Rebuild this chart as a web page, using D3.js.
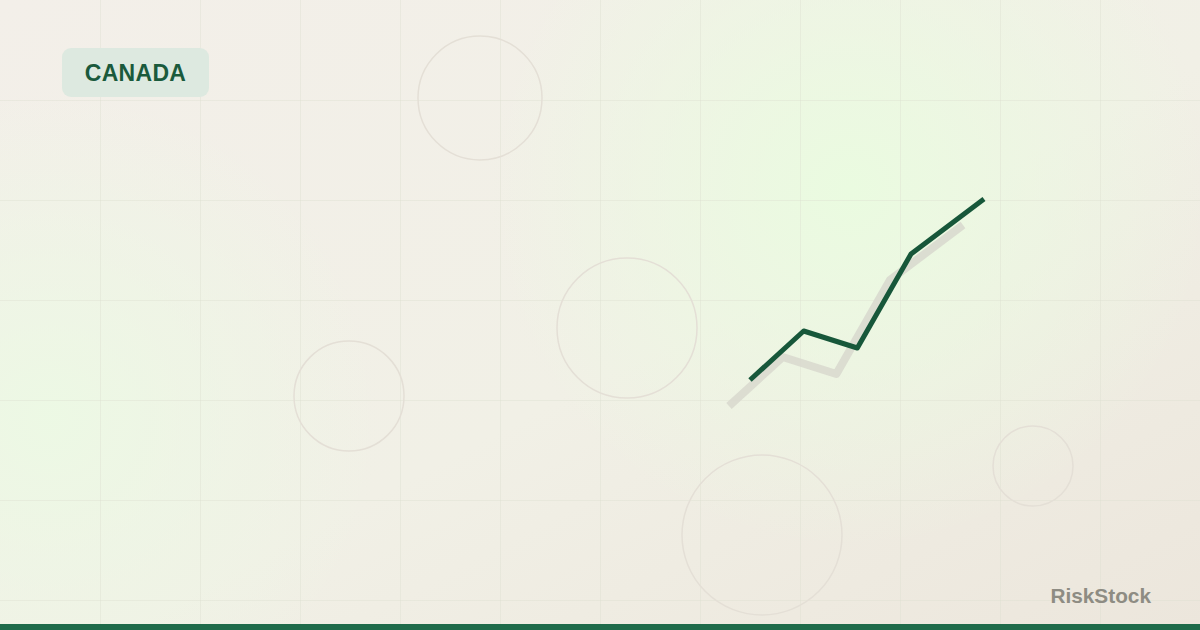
<!DOCTYPE html>
<html>
<head>
<meta charset="utf-8">
<script src="https://cdn.jsdelivr.net/npm/d3@7"></script>
<style>
  html, body { margin: 0; padding: 0; background: #f2efe8; }
  svg { display: block; }
</style>
</head>
<body>
<svg id="chart" width="1200" height="630"></svg>
<script>
// ---- data ----
const periods = [0, 1, 2, 3, 4.36];
const values = [20, 39.6, 32.8, 70.4, 92.4];
const badgeLabel = "CANADA";
const brandLabel = "RiskStock";
const circleCentersX = [480, 627, 349, 762, 1033];
const circleCentersY = [98, 328, 396, 535, 466];
const circleRadii = [62, 70, 55, 80, 40];

const W = 1200, H = 630;
const svg = d3.select("#chart");
const defs = svg.append("defs");

// background gradients
const lg = defs.append("linearGradient").attr("id", "bg").attr("x1", 0).attr("y1", 0).attr("x2", 1).attr("y2", 1);
lg.append("stop").attr("offset", "0%").attr("stop-color", "#f3efe9");
lg.append("stop").attr("offset", "55%").attr("stop-color", "#f1f0e6");
lg.append("stop").attr("offset", "100%").attr("stop-color", "#ece6dc");

const rg1 = defs.append("radialGradient").attr("id", "glow1").attr("gradientUnits", "userSpaceOnUse")
  .attr("cx", 850).attr("cy", 190).attr("r", 360);
rg1.append("stop").attr("offset", "0%").attr("stop-color", "#eafbe0").attr("stop-opacity", 1);
rg1.append("stop").attr("offset", "100%").attr("stop-color", "#eafbe0").attr("stop-opacity", 0);

const rg2 = defs.append("radialGradient").attr("id", "glow2").attr("gradientUnits", "userSpaceOnUse")
  .attr("cx", 50).attr("cy", 420).attr("r", 330);
rg2.append("stop").attr("offset", "0%").attr("stop-color", "#ecf9e4").attr("stop-opacity", 0.95);
rg2.append("stop").attr("offset", "100%").attr("stop-color", "#ecf9e4").attr("stop-opacity", 0);

svg.append("rect").attr("width", W).attr("height", H).attr("fill", "url(#bg)");
svg.append("rect").attr("width", W).attr("height", H).attr("fill", "url(#glow1)");
svg.append("rect").attr("width", W).attr("height", H).attr("fill", "url(#glow2)");

// grid
const gx = d3.range(100, W, 100), gy = d3.range(100, H, 100);
const grid = svg.append("g").attr("stroke", "#dcdfd0").attr("stroke-opacity", 0.4).attr("stroke-width", 1);
grid.selectAll("line.v").data(gx).join("line").attr("class", "v")
  .attr("x1", d => d + 0.5).attr("x2", d => d + 0.5).attr("y1", 0).attr("y2", H);
grid.selectAll("line.h").data(gy).join("line").attr("class", "h")
  .attr("y1", d => d + 0.5).attr("y2", d => d + 0.5).attr("x1", 0).attr("x2", W);

// decorative circles
svg.append("g").selectAll("circle").data(circleRadii).join("circle")
  .attr("cx", (d, i) => circleCentersX[i]).attr("cy", (d, i) => circleCentersY[i]).attr("r", d => d)
  .attr("fill", "none").attr("stroke", "#e4dfd6").attr("stroke-width", 1.5);

// scales
const x = d3.scaleLinear().domain([0, 3]).range([750, 911]);
const y = d3.scaleLinear().domain([0, 100]).range([430, 180]);
const line = d3.line().x((d, i) => x(periods[i])).y(d => y(d));

// shadow line
svg.append("path").datum(values).attr("d", line)
  .attr("transform", "translate(-21,26)")
  .attr("fill", "none").attr("stroke", "#d8d8ce").attr("stroke-opacity", 0.85)
  .attr("stroke-width", 8).attr("stroke-linejoin", "round").attr("stroke-linecap", "butt");

// main line
svg.append("path").datum(values).attr("d", line)
  .attr("fill", "none").attr("stroke", "#17573a")
  .attr("stroke-width", 5).attr("stroke-linejoin", "round").attr("stroke-linecap", "butt");

// badge
svg.append("rect").attr("x", 62).attr("y", 48).attr("width", 147).attr("height", 49).attr("rx", 9)
  .attr("fill", "#dde9e0");
svg.append("text").attr("x", 135.5).attr("y", 81).attr("text-anchor", "middle")
  .attr("font-family", "Liberation Sans, Arial, sans-serif").attr("font-weight", 700)
  .attr("font-size", 23).attr("letter-spacing", 0.3).attr("fill", "#1a5a3c").text(badgeLabel);

// brand
svg.append("text").attr("x", 1151).attr("y", 603).attr("text-anchor", "end")
  .attr("font-family", "Liberation Sans, Arial, sans-serif").attr("font-weight", 700)
  .attr("font-size", 20.8).attr("fill", "#8e8c83").text(brandLabel);

// bottom bar
svg.append("rect").attr("x", 0).attr("y", 624).attr("width", W).attr("height", 6).attr("fill", "#1f6b4a");
</script>
</body>
</html>
